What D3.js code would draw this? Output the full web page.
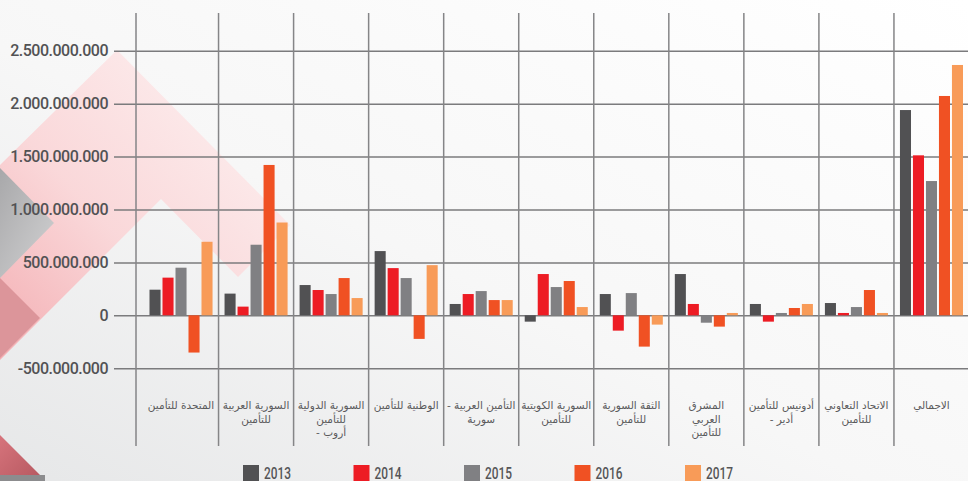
<!DOCTYPE html>
<html>
<head>
  <meta charset="UTF-8">
  <script src="https://d3js.org/d3.v7.min.js"></script>
</head>
<body style="margin:0">
  <svg id="chart"></svg>
</body>
<style>
  body { background: #fff; }
  .ylab text { font-family: Roboto, sans-serif; font-weight: 500; font-size: 16px; fill: #525254; letter-spacing: -0.5px; }
  .catlabel { font-family: 'DejaVu Sans', sans-serif; font-size: 10.5px; fill: #5a5a5c; }
  .legtext { font-family: Roboto, sans-serif; font-weight: 500; font-size: 16.5px; fill: #555557; }
</style>
<script>
  // data
  const categories = [
    ['المتحدة للتأمين'],
    ['السورية العربية', 'للتأمين'],
    ['السورية الدولية', 'للتأمين', 'أروب -\u200F'],
    ['الوطنية للتأمين'],
    ['التأمين العربية -\u200F', 'سورية'],
    ['السورية الكويتية', 'للتأمين'],
    ['الثقة السورية', 'للتأمين'],
    ['المشرق', 'العربي', 'للتأمين'],
    ['أدونيس للتأمين', 'أدير -\u200F'],
    ['الاتحاد التعاوني', 'للتأمين'],
    ['الاجمالي']
  ];
  const years = ['2013', '2014', '2015', '2016', '2017'];
  const v2013 = [242e6, 205e6, 286e6, 607e6, 107e6, -60e6, 201e6, 390e6, 107e6, 116e6, 1940e6];
  const v2014 = [356e6, 82e6, 239e6, 446e6, 201e6, 390e6, -145e6, 107e6, -60e6, 22e6, 1512e6];
  const v2015 = [450e6, 667e6, 201e6, 352e6, 229e6, 267e6, 210e6, -70e6, 22e6, 78e6, 1269e6];
  const v2016 = [-352e6, 1421e6, 352e6, -223e6, 144e6, 324e6, -296e6, -107e6, 69e6, 239e6, 2073e6];
  const v2017 = [695e6, 877e6, 163e6, 474e6, 144e6, 78e6, -88e6, 22e6, 107e6, 22e6, 2366e6];
  const yTicks = [-500e6, 0, 500e6, 1000e6, 1500e6, 2000e6, 2500e6];
  const colors = ['#515153', '#ed1c24', '#808083', '#f05123', '#f89b58'];

  const series = [v2013, v2014, v2015, v2016, v2017];
  const W = 968, H = 481;

  const svg = d3.select('#chart').attr('width', W).attr('height', H);
  const defs = svg.append('defs');

  // background
  const bg = defs.append('linearGradient').attr('id', 'bg')
    .attr('x1', '100%').attr('y1', '0%').attr('x2', '0%').attr('y2', '100%');
  bg.append('stop').attr('offset', '0%').attr('stop-color', '#ffffff');
  bg.append('stop').attr('offset', '55%').attr('stop-color', '#f7f7f7');
  bg.append('stop').attr('offset', '100%').attr('stop-color', '#e6e7e8');
  svg.append('rect').attr('width', W).attr('height', H).attr('fill', 'url(#bg)');

  const pink = defs.append('linearGradient').attr('id', 'pink')
    .attr('x1', '0%').attr('y1', '100%').attr('x2', '100%').attr('y2', '0%');
  pink.append('stop').attr('offset', '0%').attr('stop-color', '#f5a3a8');
  pink.append('stop').attr('offset', '40%').attr('stop-color', '#fbd3d5');
  pink.append('stop').attr('offset', '100%').attr('stop-color', '#fef4f4');
  const grey = defs.append('linearGradient').attr('id', 'grey')
    .attr('x1', '0%').attr('y1', '0%').attr('x2', '100%').attr('y2', '100%');
  grey.append('stop').attr('offset', '0%').attr('stop-color', '#a8a8aa');
  grey.append('stop').attr('offset', '100%').attr('stop-color', '#d2d2d3');
  const rose = defs.append('linearGradient').attr('id', 'rose')
    .attr('x1', '0%').attr('y1', '0%').attr('x2', '100%').attr('y2', '100%');
  rose.append('stop').attr('offset', '0%').attr('stop-color', '#d7747c');
  rose.append('stop').attr('offset', '100%').attr('stop-color', '#b85a62');

  const deco = svg.append('g');
  const poly = (pts, fill, op) => deco.append('path').attr('d', d3.line()(pts) + 'Z')
    .attr('fill', fill).attr('fill-opacity', op || 1);
  poly([[0, 165], [117, 50], [290, 225], [238, 277], [161, 199], [0, 360]], 'url(#pink)', 0.85);
  poly([[0, 168], [54, 223], [0, 278]], 'url(#grey)');
  poly([[0, 278], [40, 318], [0, 358]], '#dc959a');
  poly([[0, 435], [40, 475], [0, 475]], 'url(#rose)');
  poly([[0, 475], [45, 475], [45, 481], [0, 481]], '#8c8c8e');

  // scales
  const x0 = d3.scaleBand().domain(d3.range(categories.length)).range([143.5, 969]);
  const x1 = d3.scaleBand().domain(years).range([6, x0.bandwidth() - 6]).paddingInner(0.15);
  const y = d3.scaleLinear().domain([-500e6, 2500e6]).range([368.2, 50.8]);

  const locale = d3.formatLocale({ decimal: ',', thousands: '.', grouping: [3], currency: ['', ''], minus: '-' });
  const fmt = locale.format(',d');

  // horizontal grid + y labels
  const yAxis = svg.append('g').attr('class', 'ylab').attr('transform', 'translate(114,0)')
    .call(d3.axisLeft(y).tickValues(yTicks).tickFormat(fmt)
      .tickSizeInner(-(W - 114)).tickSizeOuter(0).tickPadding(6));
  yAxis.select('.domain').remove();
  yAxis.selectAll('.tick line').attr('stroke', '#7b7b7d').attr('stroke-width', 1.5);

  // vertical grid
  const vx = [136].concat(d3.range(1, categories.length).map(i => x0(i)));
  svg.append('g').selectAll('line').data(vx).join('line')
    .attr('x1', d => d).attr('x2', d => d)
    .attr('y1', 13).attr('y2', 446)
    .attr('stroke', '#858587').attr('stroke-width', 1.5);

  // bars
  const groups = svg.append('g').selectAll('g').data(categories).join('g')
    .attr('transform', (d, i) => `translate(${x0(i)},0)`);
  groups.selectAll('rect')
    .data((d, i) => years.map((yr, k) => ({ yr, k, v: series[k][i] })))
    .join('rect')
    .attr('x', d => x1(d.yr))
    .attr('width', x1.bandwidth())
    .attr('y', d => y(Math.max(0, d.v)))
    .attr('height', d => Math.abs(y(d.v) - y(0)))
    .attr('fill', d => colors[d.k]);

  // category labels
  groups.append('text').attr('class', 'catlabel')
    .attr('text-anchor', 'middle')
    .selectAll('tspan').data(d => d).join('tspan')
    .attr('x', x0.bandwidth() / 2)
    .attr('y', (d, j) => 409 + j * 13.5)
    .text(d => d);

  // legend
  const lx = d3.scalePoint().domain(years).range([243, 685]);
  const leg = svg.append('g').selectAll('g').data(years).join('g')
    .attr('transform', d => `translate(${lx(d)},0)`);
  leg.append('rect').attr('y', 465).attr('width', 16).attr('height', 16)
    .attr('fill', (d, k) => colors[k]);
  leg.append('text').attr('class', 'legtext').attr('x', 21).attr('y', 478.5)
    .attr('textLength', 27).attr('lengthAdjust', 'spacingAndGlyphs')
    .text(d => d);
</script>
</html>
